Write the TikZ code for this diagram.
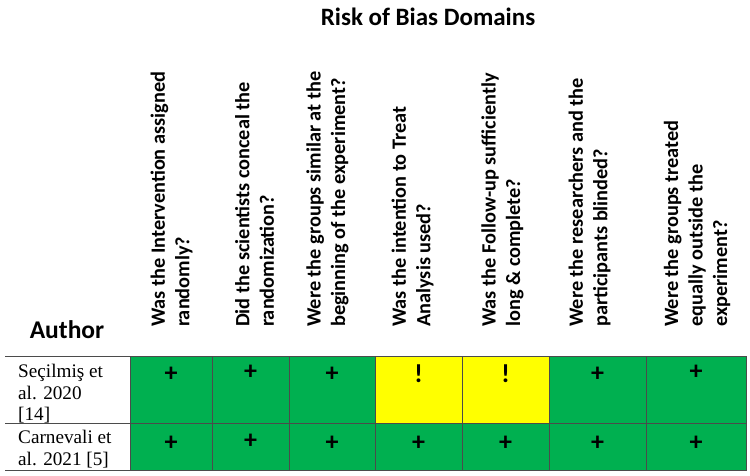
\documentclass[tikz,border=0pt]{standalone}
\usepackage{fontspec}
\setmainfont{Liberation Serif}
\newfontfamily\hdrfont{Carlito}
\usetikzlibrary{positioning}

\definecolor{robgreen}{RGB}{0,176,80}
\definecolor{robyellow}{RGB}{255,255,0}
\definecolor{robline}{RGB}{75,75,75}

\tikzset{
  gcell/.style={draw=robline, fill=robgreen, line width=0.8pt, inner sep=0pt},
  ycell/.style={draw=robline, fill=robyellow, line width=0.8pt, inner sep=0pt},
  sym/.style={font=\hdrfont\bfseries\fontsize{26}{26}\selectfont, inner sep=0pt},
  question/.style={rotate=90, anchor=west, align=left, inner sep=0pt,
    font=\hdrfont\bfseries\fontsize{20.3}{24.5}\selectfont},
  authname/.style={anchor=north west, align=left, inner sep=0pt,
    font=\fontsize{19.2}{21.5}\selectfont},
}

\begin{document}
\begin{tikzpicture}[x=1pt,y=-1pt]
  \useasboundingbox (0,0) rectangle (750,476);

% Title and column heads
  \node[font=\hdrfont\bfseries\fontsize{25}{25}\selectfont] (title) at (428,17) {Risk of Bias Domains};
  \node[font=\hdrfont\bfseries\fontsize{25.5}{25.5}\selectfont] (author) at (67,330) {Author};

  \node[question] (q1) at (171.5,327) {Was the Intervention assigned\\randomly?};
  \node[question] (q2) at (254.5,327) {Did the scientists conceal the\\randomization?};
  \node[question] (q3) at (327.5,327) {Were the groups similar at the\\beginning of the experiment?};
  \node[question] (q4) at (412.5,327) {Was the intention to Treat\\Analysis used?};
  \node[question] (q5) at (502.5,327) {Was the Follow-up sufficiently\\long \& complete?};
  \node[question] (q6) at (589.5,327) {Were the researchers and the\\participants blinded?};
  \node[question] (q7) at (697,327) {Were the groups treated\\equally outside the\\experiment?};

% Author column rules
  \draw[robline, line width=0.8pt] (5,356) -- (130,356);
  \draw[robline, line width=0.8pt] (5,423) -- (130,423);
  \draw[robline, line width=0.8pt] (5,470) -- (130,470);

  \node[authname] (nsec) at (18,364) {Seçilmiş et\\al. 2020\\{[14]}};
  \node[authname] (ncar) at (18,430) {Carnevali et\\al. 2021 [5]};

% Row 1: Seçilmiş
  \node[gcell, minimum width=82pt, minimum height=67pt] (s1) at (171,389.5) {};
  \node[gcell, minimum width=77pt, minimum height=67pt] (s2) at (250.5,389.5) {};
  \node[gcell, minimum width=86pt, minimum height=67pt] (s3) at (332,389.5) {};
  \node[ycell, minimum width=87pt, minimum height=67pt] (s4) at (418.5,389.5) {};
  \node[ycell, minimum width=87pt, minimum height=67pt] (s5) at (505.5,389.5) {};
  \node[gcell, minimum width=97pt, minimum height=67pt] (s6) at (597.5,389.5) {};
  \node[gcell, minimum width=100pt, minimum height=67pt] (s7) at (696,389.5) {};

  \node[sym] (ms1) at (s1.north) [yshift=-19pt] {+};
  \node[sym] (ms2) at (s2.north) [yshift=-17pt] {+};
  \node[sym] (ms3) at (s3.north) [yshift=-19pt] {+};
  \node[sym] (ms4) at (s4.north) [yshift=-18pt] {!};
  \node[sym] (ms5) at (s5.north) [yshift=-18pt] {!};
  \node[sym] (ms6) at (s6.north) [yshift=-19pt] {+};
  \node[sym] (ms7) at (s7.north) [yshift=-17pt] {+};

% Row 2: Carnevali
  \node[gcell, minimum width=82pt, minimum height=47pt] (c1) at (171,446.5) {};
  \node[gcell, minimum width=77pt, minimum height=47pt] (c2) at (250.5,446.5) {};
  \node[gcell, minimum width=86pt, minimum height=47pt] (c3) at (332,446.5) {};
  \node[gcell, minimum width=87pt, minimum height=47pt] (c4) at (418.5,446.5) {};
  \node[gcell, minimum width=87pt, minimum height=47pt] (c5) at (505.5,446.5) {};
  \node[gcell, minimum width=97pt, minimum height=47pt] (c6) at (597.5,446.5) {};
  \node[gcell, minimum width=100pt, minimum height=47pt] (c7) at (696,446.5) {};

  \node[sym] (mc1) at (c1) [yshift=3pt] {+};
  \node[sym] (mc2) at (c2) [yshift=5pt] {+};
  \node[sym] (mc3) at (c3) [yshift=3pt] {+};
  \node[sym] (mc4) at (c4) [yshift=3pt] {+};
  \node[sym] (mc5) at (c5) [yshift=3pt] {+};
  \node[sym] (mc6) at (c6) [yshift=3pt] {+};
  \node[sym] (mc7) at (c7) [yshift=3pt] {+};
\end{tikzpicture}
\end{document}
